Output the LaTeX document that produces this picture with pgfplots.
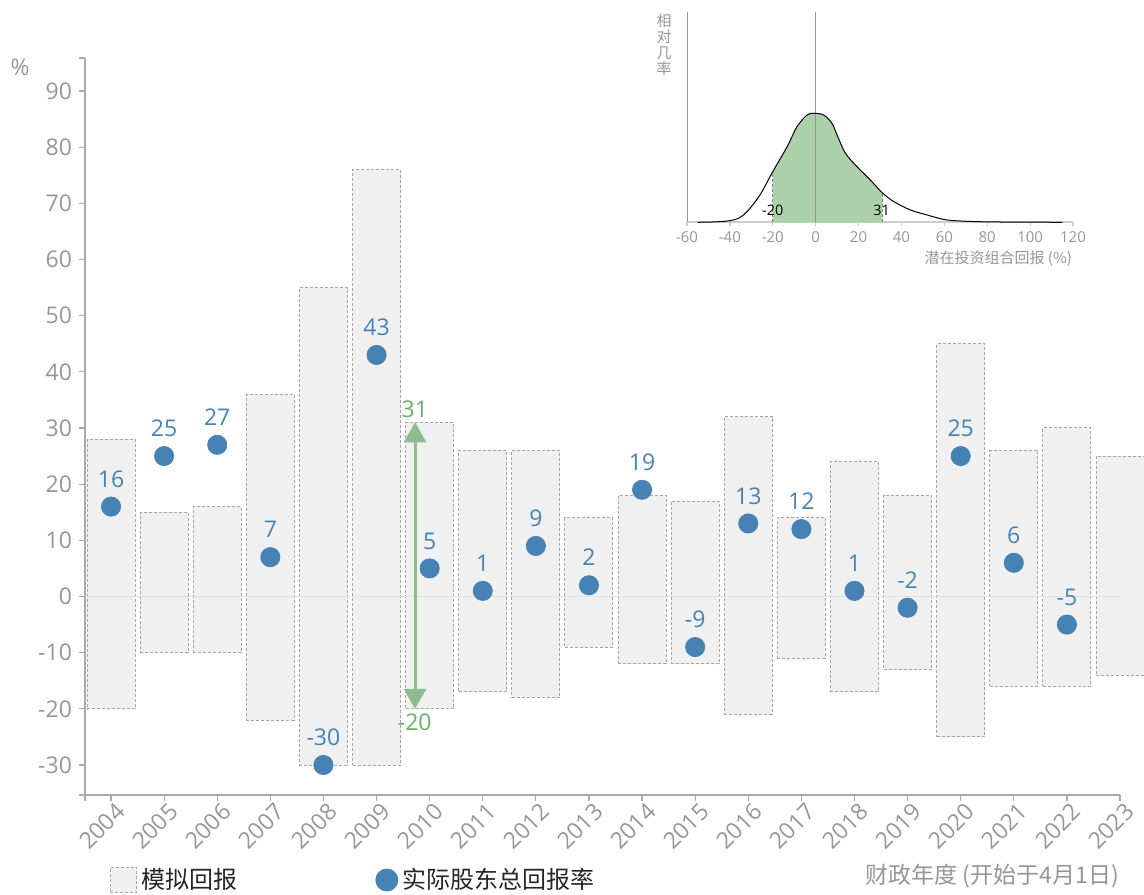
\documentclass[border=0pt]{standalone}
\usepackage{pgfplots}
\pgfplotsset{compat=1.18}
\usepackage{pgfplotstable}
\usetikzlibrary{arrows.meta}
\usepackage{fontspec}
\setmainfont{Open Sans}
\newfontfamily\cjk{Noto Sans CJK SC}
\definecolor{txtgray}{RGB}{150,150,150}
\definecolor{axgray}{RGB}{170,170,170}
\definecolor{barfill}{RGB}{240,240,240}
\definecolor{barline}{RGB}{165,165,165}
\definecolor{dotblue}{RGB}{70,130,180}
\definecolor{arrowgreen}{RGB}{143,188,143}
\definecolor{textgreen}{RGB}{105,175,105}
\definecolor{densgreen}{RGB}{172,209,170}
\definecolor{zeroline}{RGB}{225,225,225}
\definecolor{inaxis}{RGB}{205,205,205}

\pgfplotsset{
  barleg/.style={legend image code/.code={\draw[##1] (0pt,-6.25pt) rectangle (13pt,6.25pt);}},
  dotleg/.style={legend image code/.code={\fill[##1] (5.5pt,0pt) circle (5.5pt);}},
}

\pgfplotstableread{
i low high
0 -20 28
1 -10 15
2 -10 16
3 -22 36
4 -30 55
5 -30 76
6 -20 31
7 -17 26
8 -18 26
9 -9 14
10 -12 18
11 -12 17
12 -21 32
13 -11 14
14 -17 24
15 -13 18
16 -25 45
17 -16 26
18 -16 30
19 -14 25
}\bars

\pgfplotstableread{
i y
0 16
1 25
2 27
3 7
4 -30
5 43
6 5
7 1
8 9
9 2
10 19
11 -9
12 13
13 12
14 1
15 -2
16 25
17 6
18 -5
}\tsr

\begin{document}
\begin{tikzpicture}
\useasboundingbox (0,0) rectangle (572pt,447pt);

% ---- bars (floating): hidden axis whose values are offset by +40,
% so that an invisible base (low+40) and the visible part (high-low) stack upward
\begin{axis}[
  at={(42.5pt,49.5pt)}, anchor=south west,
  scale only axis, width=517.5pt, height=368.5pt,
  xmin=-0.49, xmax=19, ymin=4.66, ymax=135.87,
  hide axis, clip=false,
  ybar stacked, bar width=24pt,
]
\addplot[draw=none, fill=none] table[x=i, y expr=\thisrow{low}+40]{\bars};
\addplot[fill=barfill, draw=barline, line width=0.5pt, dash pattern=on 1.5pt off 1pt]
  table[x=i, y expr=\thisrow{high}-\thisrow{low}]{\bars};
\end{axis}

% ---- main axis
\begin{axis}[
  at={(42.5pt,49.5pt)}, anchor=south west,
  scale only axis, width=517.5pt, height=368.5pt,
  xmin=-0.49, xmax=19, ymin=-35.34, ymax=95.87,
  clip=false,
  axis x line*=bottom, axis y line*=left,
  axis line style={axgray, line width=0.8pt},
  xtick={0,...,19},
  xticklabels={2004,2005,2006,2007,2008,2009,2010,2011,2012,2013,2014,2015,2016,2017,2018,2019,2020,2021,2022,2023},
  ytick={-30,-20,-10,0,10,20,30,40,50,60,70,80,90},
  yticklabels={-30,-20,-10,0,10,20,30,40,50,60,70,80,90},
  extra y ticks={-35.34,95.87}, extra y tick labels={},
  extra x ticks={-0.49}, extra x tick labels={},
  tick align=outside, major tick length=3pt,
  tick style={axgray, line width=0.6pt},
  ticklabel style={font=\fontsize{11.5}{13}\selectfont, text=txtgray},
  xticklabel style={rotate=45, anchor=north east, xshift=4.5pt, yshift=2pt},
  legend columns=2,
  legend style={at={(axis description cs:0.0242,-0.1153)}, anchor=west,
    draw=none, fill=none, inner sep=0pt,
    font=\cjk\fontsize{12}{14}\selectfont, text=black!85},
]
\addlegendimage{barleg, fill=barfill, draw=barline, line width=0.5pt, dash pattern=on 1.5pt off 1pt}
\addlegendentry{模拟回报\kern67pt\null}
\addlegendimage{dotleg, dotblue}
\addlegendentry{实际股东总回报率}

\addplot[zeroline, line width=0.5pt, forget plot] coordinates {(-0.49,0) (19,0)};

\addplot[arrowgreen, line width=1.5pt,
  {Triangle[width=11pt,length=10pt]}-{Triangle[width=11pt,length=10pt]}, forget plot]
  coordinates {(5.725,-20) (5.725,31)};
\node[anchor=base, text=textgreen, font=\fontsize{11.5}{13}\selectfont, yshift=2.2pt] at (axis cs:5.72,31) {31};
\node[anchor=base, text=textgreen, font=\fontsize{11.5}{13}\selectfont, yshift=-10.6pt] at (axis cs:5.72,-20) {-20};

\addplot[only marks, mark=*, mark size=4.8pt, color=dotblue, forget plot,
  nodes near coords, point meta=explicit symbolic,
  every node near coord/.append style={anchor=base, yshift=9.7pt, text=dotblue,
    font=\fontsize{11.5}{13}\selectfont}]
  table[x=i, y=y, meta=y]{\tsr};

\node[text=txtgray, font=\fontsize{11.5}{13}\selectfont] at (axis description cs:-0.0628,0.988) {\%};
\node[anchor=east, text=txtgray, font=\cjk\fontsize{11.5}{13}\selectfont, xshift=4pt] at (axis description cs:0.998,-0.110) {财政年度 (开始于4月1日)};
\end{axis}

% ---- inset density
\begin{axis}[
  at={(343.5pt,335.85pt)}, anchor=south west,
  scale only axis, width=193pt, height=105pt,
  xmin=-60, xmax=120, ymin=0, ymax=1.927,
  clip=false,
  axis x line*=bottom, axis y line*=left,
  x axis line style={inaxis, line width=1pt},
  y axis line style={txtgray, line width=0.5pt},
  xtick={-60,-40,-20,0,20,40,60,80,100,120},
  xticklabels={-60,-40,-20,0,20,40,60,80,100,120},
  ytick=\empty,
  tick align=outside, major tick length=2pt,
  x tick style={inaxis, line width=0.6pt},
  ticklabel style={font=\fontsize{7.5}{9}\selectfont, text=txtgray},
  xticklabel style={yshift=1pt},
]
\addplot[fill=densgreen, draw=none, smooth] coordinates {
(-20,0.465) (-13.3,0.694) (-8.7,0.878) (-4,0.985) (-0.9,1.0) (3.7,0.985) (7.6,0.908) (10,0.80)
(13.9,0.633) (19.3,0.51) (25.5,0.388) (31,0.272)} \closedcycle;
\addplot[txtgray, line width=0.5pt] coordinates {(0,0) (0,1.927)};
\addplot[gray, line width=0.5pt, dash pattern=on 1.5pt off 1pt] coordinates {(-20,0) (-20,0.465)};
\addplot[gray, line width=0.5pt, dash pattern=on 1.5pt off 1pt] coordinates {(31,0) (31,0.272)};
\addplot[black, line width=0.5pt, smooth] coordinates {
(-55,0) (-48,0.003) (-41,0.012) (-36,0.037) (-32,0.098) (-26,0.25) (-20,0.465) (-13.3,0.694)
(-8.7,0.878) (-4,0.985) (-0.9,1.0) (3.7,0.985) (7.6,0.908) (10,0.80) (13.9,0.633) (19.3,0.51)
(25.5,0.388) (31,0.272) (36.4,0.19) (44.2,0.113) (52,0.067) (61.3,0.021) (75.3,0.006)
(90.8,0.002) (115,0)};
\node[font=\fontsize{7.2}{9}\selectfont] at (axis cs:-20,0.113) {-20};
\node[font=\fontsize{7.2}{9}\selectfont] at (axis cs:30.7,0.113) {31};
\node[anchor=east, text=txtgray, font=\cjk\fontsize{7.5}{9}\selectfont, xshift=3pt] at (axis description cs:1,-0.171) {潜在投资组合回报 (\%)};
\node[anchor=north, align=center, inner sep=0pt, text=txtgray, font=\cjk\fontsize{7.5}{8}\selectfont] at (axis description cs:-0.0596,0.992) {相\\对\\几\\率};
\end{axis}
\end{tikzpicture}
\end{document}
